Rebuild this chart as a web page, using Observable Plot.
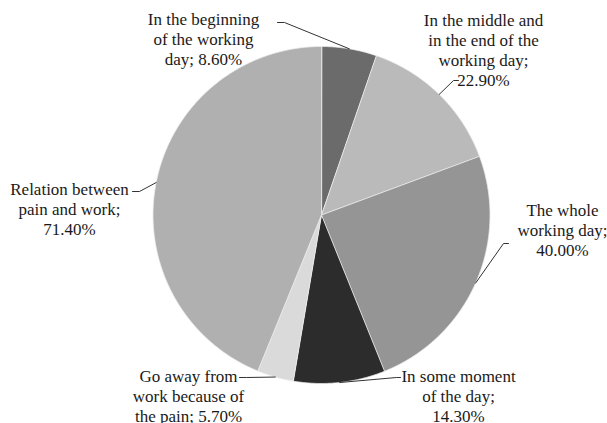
<!DOCTYPE html>
<html><head><meta charset="utf-8">
<script src="https://cdn.jsdelivr.net/npm/d3@7"></script>
<script src="https://cdn.jsdelivr.net/npm/@observablehq/plot@0.6"></script>
<style>body{margin:0;background:#fff} svg text{font-family:"Liberation Serif","Times New Roman",serif !important;}</style>
</head><body><div id="chart"></div>
<script>
// ---- data ----
const categories = [
  "In the beginning\nof the working\nday",
  "In the middle and\nin the end of the\nworking day",
  "The whole\nworking day",
  "In some moment\nof the day",
  "Go away from\nwork because of\nthe pain",
  "Relation between\npain and work"
];
const values = [8.6, 22.9, 40.0, 14.3, 5.7, 71.4];
const separators = ["; ", ";\n", ";\n", ";\n", "; ", ";\n"];
const colors = ["#6b6b6b", "#bababa", "#959595", "#2c2c2c", "#dadada", "#b0b0b0"];

// ---- layout ----
const W = 607, H = 423;
const cx = 321, cy = 214.5, R = 168.5;
const labelPos = [[203, 38], [483, 49], [562, 229], [458, 395], [188, 395], [69, 208]];
const leaderElbows = [
  [[277, 22], [284, 22]],
  [[458, 80], [453, 80]],
  [[508, 243], [503, 243]],
  [[400, 377], [396, 377]],
  [[239, 377], [246, 377]],
  [[132, 191], [139, 191]]
];

const arcs = d3.pie().sort(null)(values);
const pt = (a, r) => ({x: cx + r * Math.sin(a), y: cy - r * Math.cos(a)});

const piePts = [];
arcs.forEach((a, i) => {
  piePts.push({i, color: colors[i], ...pt(0, 0)});
  const n = Math.max(2, Math.ceil((a.endAngle - a.startAngle) / 0.005));
  for (let k = 0; k <= n; k++) {
    const t = a.startAngle + (a.endAngle - a.startAngle) * k / n;
    piePts.push({i, color: colors[i], ...pt(t, R)});
  }
});

const leaderPts = [];
arcs.forEach((a, i) => {
  const mid = (a.startAngle + a.endAngle) / 2;
  leaderElbows[i].forEach(([x, y]) => leaderPts.push({i, x, y}));
  leaderPts.push({i, ...pt(mid, R)});
});

const labels = categories.map((c, i) => ({
  x: labelPos[i][0], y: labelPos[i][1],
  text: c + separators[i] + values[i].toFixed(2) + "%"
}));

const chart = Plot.plot({
  width: W, height: H, margin: 0,
  x: {domain: [0, W], range: [0, W], axis: null},
  y: {domain: [0, H], range: [0, H], axis: null},
  color: {type: "identity"},
  style: {background: "#fff", fontFamily: "'Liberation Serif', 'Times New Roman', serif"},
  marks: [
    Plot.line(piePts, {x: "x", y: "y", z: "i", fill: "color", stroke: "#eeeeee", strokeWidth: 0.8, curve: "linear-closed"}),
    Plot.line(leaderPts, {x: "x", y: "y", z: "i", stroke: "#333", strokeWidth: 1}),
    Plot.text(labels, {x: "x", y: "y", text: "text", fontSize: 17, fontFamily: "'Liberation Serif', 'Times New Roman', serif", lineHeight: 1.17, fill: "#1a1a1a"})
  ]
});
document.getElementById("chart").appendChild(chart);
</script>
</body></html>
